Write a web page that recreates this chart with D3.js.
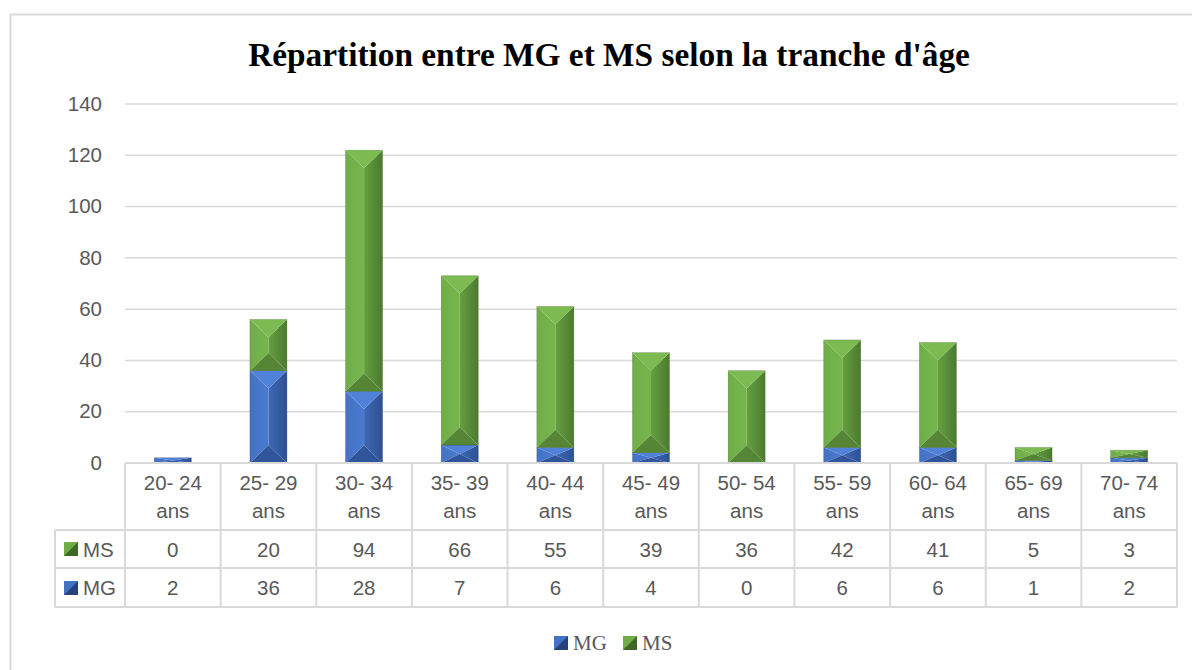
<!DOCTYPE html>
<html><head><meta charset="utf-8">
<script src="https://cdn.jsdelivr.net/npm/d3@7"></script>
<style>body{margin:0;background:#fff;}svg{display:block;}</style>
</head><body>
<svg id="c" width="1192" height="670"></svg>
<script>
const categories = ["20- 24 ans","25- 29 ans","30- 34 ans","35- 39 ans","40- 44 ans","45- 49 ans","50- 54 ans","55- 59 ans","60- 64 ans","65- 69 ans","70- 74 ans"];
const seriesNames = ["MG","MS"];
const MG = [2,36,28,7,6,4,0,6,6,1,2];
const MS = [0,20,94,66,55,39,36,42,41,5,3];
const yTicks = [0,20,40,60,80,100,120,140];
const title = "Répartition entre MG et MS selon la tranche d'âge";

const svg = d3.select("#c");
const W = 1192, H = 670;
const L = 125, R = 1177, T = 104, B = 463;
const rowCat = 530, rowMS = 568, rowMG = 607, hdrL = 55;
const grid = "#d9d9d9", txt = "#595959";
const pal = {
  MG: {main:"#4472c4", left2:"#4a7bd0", top:"#4f82d8", r1:"#3d69b6", r2:"#2e5092", bottom:"#31559a", edge:"#25427a"},
  MS: {main:"#70ad47", left2:"#77b64d", top:"#7bbb51", r1:"#65a03f", r2:"#4c7a30", bottom:"#548636", edge:"#3f6828"}
};

const defs = svg.append("defs");
Object.entries(pal).forEach(([k,p])=>{
  const gr = defs.append("linearGradient").attr("id","r"+k).attr("x1",0).attr("x2",1).attr("y1",0).attr("y2",0);
  gr.append("stop").attr("offset",0).attr("stop-color",p.r1);
  gr.append("stop").attr("offset",1).attr("stop-color",p.r2);
  const gl = defs.append("linearGradient").attr("id","l"+k).attr("x1",0).attr("x2",1).attr("y1",0).attr("y2",0);
  gl.append("stop").attr("offset",0).attr("stop-color",p.main);
  gl.append("stop").attr("offset",1).attr("stop-color",p.left2);
});

// outer border
svg.append("path").attr("d",`M${W+5},14.5 H10.5 V${H+5}`).attr("fill","none").attr("stroke",grid).attr("stroke-width",2);

// title
const tEl = svg.append("text").attr("x",609).attr("y",66).attr("text-anchor","middle")
  .attr("font-family","'Liberation Serif', serif").attr("font-weight","bold").attr("font-size",32)
  .attr("fill","#000").text(title);
const tw = tEl.node().getComputedTextLength();
tEl.attr("font-size", 32*722/tw);

const x = d3.scaleBand().domain(categories).range([L,R]).paddingInner(0).paddingOuter(0);
const y = d3.scaleLinear().domain([0,140]).range([B,T]);

// gridlines
svg.append("g").selectAll("line").data(yTicks.filter(v=>v>0)).join("line")
  .attr("x1",L).attr("x2",R).attr("y1",d=>y(d)).attr("y2",d=>y(d))
  .attr("stroke",grid).attr("stroke-width",1.5);

const font = "'Liberation Sans', Arial, sans-serif";
// y axis labels
const yAxis = d3.axisLeft(y).tickValues(yTicks).tickSize(0).tickPadding(0);
const ga = svg.append("g").attr("transform",`translate(102,0)`).call(yAxis);
ga.select(".domain").remove();
ga.selectAll("text").attr("font-family",font).attr("font-size",20.5).attr("fill",txt).attr("dy","0.3em");

// stacked bars
const stackData = categories.map((c,i)=>({cat:c, MG:MG[i], MS:MS[i]}));
const stack = d3.stack().keys(seriesNames)(stackData);
const bw = 37;
function bevel(g, x0, x1, yt, yb, p, key){
  const w = x1-x0, h = yb-yt; if (h <= 0) return;
  const cx = (x0+x1)/2;
  const d = Math.min(w*0.48, h/2);
  const poly = pts => g.append("polygon").attr("points", pts.map(p=>p.join(",")).join(" "));
  poly([[x0,yt],[cx,yt+d],[cx,yb-d],[x0,yb]]).attr("fill",`url(#l${key})`);
  poly([[x1,yt],[cx,yt+d],[cx,yb-d],[x1,yb]]).attr("fill",`url(#r${key})`);
  poly([[x0,yt],[x1,yt],[cx,yt+d]]).attr("fill",p.top);
  poly([[x0,yb],[x1,yb],[cx,yb-d]]).attr("fill",p.bottom);
  g.append("rect").attr("x",x0).attr("y",yt).attr("width",w).attr("height",h)
    .attr("fill","none").attr("stroke",p.edge).attr("stroke-width",0.5).attr("opacity",0.6);
}
const gb = svg.append("g");
stack.forEach(s=>{
  s.forEach(d=>{
    const cx = x(d.data.cat) + x.bandwidth()/2;
    bevel(gb, cx-bw/2, cx+bw/2, y(d[1]), y(d[0]), pal[s.key], s.key);
  });
});

// table
const tg = svg.append("g").attr("stroke",grid).attr("stroke-width",2);
tg.append("line").attr("x1",L).attr("x2",R).attr("y1",B).attr("y2",B);
[rowCat,rowMS,rowMG].forEach(yy=>tg.append("line").attr("x1",hdrL).attr("x2",R).attr("y1",yy).attr("y2",yy));
categories.forEach(c=>tg.append("line").attr("x1",x(c)).attr("x2",x(c)).attr("y1",B).attr("y2",rowMG));
tg.append("line").attr("x1",R).attr("x2",R).attr("y1",B).attr("y2",rowMG);
tg.append("line").attr("x1",hdrL).attr("x2",hdrL).attr("y1",rowCat).attr("y2",rowMG);

const tt = svg.append("g").attr("font-family",font).attr("font-size",20.5).attr("fill",txt).attr("text-anchor","middle");
categories.forEach(c=>{
  const cx = x(c)+x.bandwidth()/2;
  const parts = c.split(" ans");
  tt.append("text").attr("x",cx).attr("y",490).text(parts[0]);
  tt.append("text").attr("x",cx).attr("y",518).text("ans");
});
categories.forEach((c,i)=>{
  const cx = x(c)+x.bandwidth()/2;
  tt.append("text").attr("x",cx).attr("y",557).text(MS[i]);
  tt.append("text").attr("x",cx).attr("y",595).text(MG[i]);
});
function swatch(g, xx, yy, s, p){
  g.append("rect").attr("x",xx).attr("y",yy).attr("width",s).attr("height",s).attr("fill",p.main);
  g.append("polygon").attr("points",`${xx+s},${yy} ${xx+s},${yy+s} ${xx},${yy+s}`).attr("fill",p.edge);
}
swatch(svg, 64, 542, 14, pal.MS);
swatch(svg, 64, 581, 14, pal.MG);
svg.append("text").attr("x",83).attr("y",557).attr("font-family",font).attr("font-size",20.5).attr("fill",txt).text("MS");
svg.append("text").attr("x",83).attr("y",595).attr("font-family",font).attr("font-size",20.5).attr("fill",txt).text("MG");

// legend
const lg = svg.append("g");
const legendX = [554, 623];
seriesNames.forEach((n,i)=>{
  swatch(lg, legendX[i], 636, 14, pal[n]);
  lg.append("text").attr("x",legendX[i]+19).attr("y",650).attr("font-family","'Liberation Serif', serif")
    .attr("font-size",21).attr("fill",txt).text(n);
});
</script>
</body></html>
